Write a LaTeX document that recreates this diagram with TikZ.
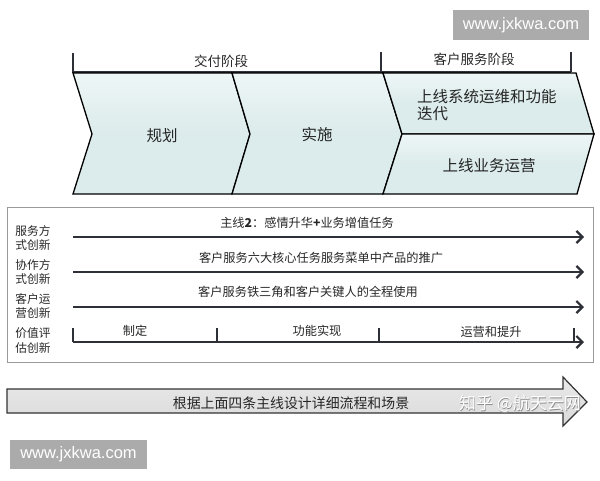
\documentclass[tikz,border=0pt]{standalone}
\usepackage{fontspec}
\setmainfont{Liberation Sans}
\newfontfamily\cjk{Noto Sans CJK SC}
\usetikzlibrary{arrows.meta}
\definecolor{chevfill}{HTML}{DCEBEB}
\definecolor{chevtop}{HTML}{EEF6F6}
\definecolor{lineclr}{HTML}{2E3038}
\definecolor{boxgray}{HTML}{9A9A9A}
\definecolor{wmgray}{HTML}{ABABAB}
\definecolor{barfill}{HTML}{DADADA}
\begin{document}
\begin{tikzpicture}[x=1pt,y=-1pt,
  chevshape/.style={draw=black, line width=1.3pt, top color=chevtop, bottom color=chevfill, middle color=chevfill, line join=miter},
  bracketline/.style={draw=lineclr, line width=1.3pt},
  bigtxt/.style={font=\cjk\fontsize{15.5}{17}\selectfont, inner sep=0pt, text=black!85},
  phasetxt/.style={font=\cjk\fontsize{13.5}{15}\selectfont, inner sep=0pt, text=black!85},
  sidetxt/.style={font=\cjk\fontsize{11.7}{14.3}\selectfont, inner sep=0pt, align=left, text=black!85},
  linetxt/.style={font=\cjk\fontsize{12.2}{14}\selectfont, inner sep=0pt, text=black!85},
  mainarrow/.style={draw=lineclr, line width=2.4pt, -{Straight Barb[length=6pt,width=12pt,line width=2.2pt]}},
  tickline/.style={draw=lineclr, line width=2pt},
  wmbox/.style={fill=wmgray, draw=none, minimum width=136pt, minimum height=30pt, inner sep=0pt, text=white, font=\fontsize{16.5}{18}\selectfont},
]
\useasboundingbox (0,0) rectangle (600,480);

% watermark top
\node[wmbox] (wmtop) at (521,25) {www.jxkwa.com};

% brackets
\coordinate (bl0) at (73,53);  \coordinate (bl1) at (73,72);
\coordinate (bm0) at (381,52); \coordinate (bm1) at (381,72);
\coordinate (br0) at (571,52); \coordinate (br1) at (571,72);
\draw[bracketline] (bl0) -- (bl1) -- (bm1);
\draw[bracketline] (bm0) -- (bm1) -- (br1);
\draw[bracketline] (br0) -- (br1);
\node[phasetxt] (phase1) at (221,61) {交付阶段};
\node[phasetxt] (phase2) at (474,59) {客户服务阶段};

% chevrons
\path[chevshape] (73,73) -- (232,73) -- (250,134) -- (232,194) -- (73,194) -- (92,134) -- cycle;
\path[chevshape] (232,73) -- (383,73) -- (402,134) -- (383,194) -- (232,194) -- (250,134) -- cycle;
\path[chevshape] (383,73) -- (576,73) -- (594,134) -- (402,134) -- cycle;
\path[chevshape] (402,134) -- (594,134) -- (577,194) -- (383,194) -- cycle;
\node[bigtxt] (plan) at (162,136) {规划};
\node[bigtxt] (impl) at (317,135) {实施};
\node[bigtxt, anchor=north west, align=left] (ops) at (417,89) {上线系统运维和功能\\迭代};
\node[bigtxt] (biz) at (489,166) {上线业务运营};

% middle box
\draw[boxgray, line width=1pt] (7,207) rectangle (593,362);

\node[sidetxt] (s1) at (33,238) {服务方\\式创新};
\node[sidetxt] (s2) at (33,272) {协作方\\式创新};
\node[sidetxt] (s3) at (33,306) {客户运\\营创新};
\node[sidetxt] (s4) at (33,340.5) {价值评\\估创新};

\coordinate (a1s) at (73,237); \coordinate (a1e) at (584,237);
\coordinate (a2s) at (73,272); \coordinate (a2e) at (584,272);
\coordinate (a3s) at (73,307); \coordinate (a3e) at (584,307);
\coordinate (a4s) at (73,342); \coordinate (a4e) at (584,342);
\draw[mainarrow] (a1s) -- (a1e);
\draw[mainarrow] (a2s) -- (a2e);
\draw[mainarrow] (a3s) -- (a3e);
\draw[mainarrow] (a4s) -- (a4e);

\node[linetxt] (l1) at (307,223) {主线\textbf{2}：感情升华\textbf{+}业务增值任务};
\node[linetxt] (l2) at (321,258) {客户服务六大核心任务服务菜单中产品的推广};
\node[linetxt] (l3) at (308,292) {客户服务铁三角和客户关键人的全程使用};

\coordinate (t1a) at (73,328);  \coordinate (t1b) at (73,342);
\coordinate (t2a) at (217,328); \coordinate (t2b) at (217,342);
\coordinate (t3a) at (379,328); \coordinate (t3b) at (379,342);
\coordinate (t4a) at (574,328); \coordinate (t4b) at (574,342);
\draw[tickline] (t1a) -- (t1b);
\draw[tickline] (t2a) -- (t2b);
\draw[tickline] (t3a) -- (t3b);
\draw[tickline] (t4a) -- (t4b);
\node[linetxt] (p1) at (135,331) {制定};
\node[linetxt] (p2) at (317,331) {功能实现};
\node[linetxt] (p3) at (491,332) {运营和提升};

% big bottom arrow
\path[draw=black!80, line width=1.2pt, top color=barfill!60!white, bottom color=barfill, line join=miter]
  (7,389) -- (563,389) -- (563,377) -- (587,402) -- (563,426) -- (563,413) -- (7,413) -- cycle;
\node[font=\cjk\fontsize{13.9}{15}\selectfont, inner sep=0pt, text=black!85] (bottomtxt) at (291,403) {根据上面四条主线设计详细流程和场景};
\node[font=\cjk\fontsize{17}{18}\selectfont, inner sep=0pt, text=black!45] (zhshadow) at (520.6,404.6) {知乎 @航天云网};
\node[font=\cjk\fontsize{17}{18}\selectfont, inner sep=0pt, text=white] (zh) at (520,404) {知乎 @航天云网};

% watermark bottom
\node[wmbox, minimum width=137pt, minimum height=29pt] (wmbot) at (78.5,454.5) {www.jxkwa.com};
\end{tikzpicture}
\end{document}
